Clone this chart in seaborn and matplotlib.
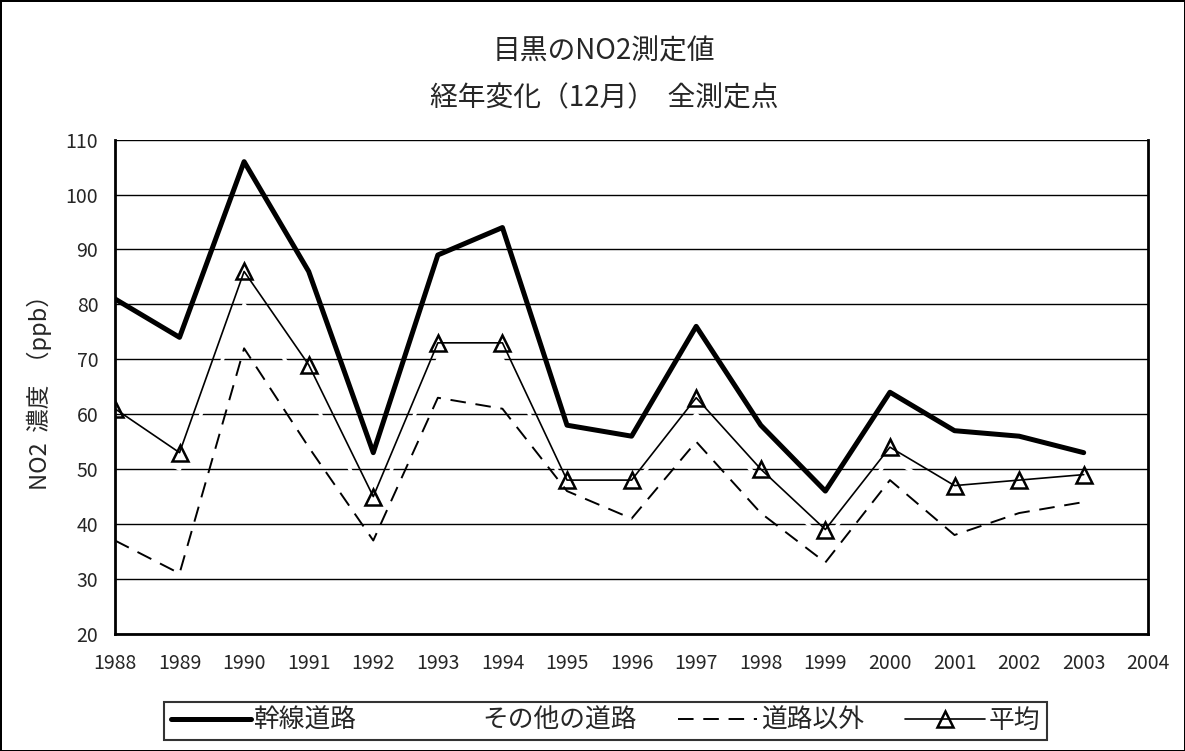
import numpy as np
import pandas as pd
import seaborn as sns
import matplotlib.pyplot as plt

years = list(range(1988, 2004))
kansen = [81, 74, 106, 86, 53, 89, 94, 58, 56, 76, 58, 46, 64, 57, 56, 53]
sonota = [56, 50, 80, 64, 42, 70, 70, 46, 47, 60, 48, 37, 52, 45, 46, 48]
igai = [37, 31, 72, 54, 37, 63, 61, 46, 41, 55, 42, 33, 48, 38, 42, 44]
heikin = [61, 53, 86, 69, 45, 73, 73, 48, 48, 63, 50, 39, 54, 47, 48, 49]

names = ["幹線道路", "その他の道路", "道路以外", "平均"]
title = "目黒のNO2測定値\n経年変化（12月）  全測定点"
ylabel = "NO2  濃度  （ppb）"

df = pd.DataFrame({"year": years, names[0]: kansen, names[1]: sonota,
                   names[2]: igai, names[3]: heikin})

sns.set_style("white")
plt.rcParams['font.family'] = ['Noto Sans CJK JP', 'DejaVu Sans']

fig = plt.figure(figsize=(11.85, 7.51), dpi=100)
fig.patch.set_edgecolor('black')
fig.patch.set_linewidth(2)
ax = fig.add_axes([0.097, 0.156, 0.872, 0.658])

ax.yaxis.grid(True, color='black', lw=1, zorder=0)
ax.set_axisbelow(True)

sns.lineplot(data=df, x="year", y=names[1], ax=ax, color='white', lw=2.5,
             label=names[1], zorder=2)
sns.lineplot(data=df, x="year", y=names[0], ax=ax, color='black', lw=3.6,
             label=names[0], zorder=3)
sns.lineplot(data=df, x="year", y=names[2], ax=ax, color='black', lw=1.4,
             label=names[2], zorder=3)
ax.lines[-1].set_dashes([8, 5])
sns.lineplot(data=df, x="year", y=names[3], ax=ax, color='black', lw=1.2,
             marker='^', markersize=11, markerfacecolor='none',
             markeredgecolor='black', markeredgewidth=1.8, label=names[3], zorder=4)

ax.set_xlim(1988, 2004)
ax.set_ylim(20, 110)
ax.set_xticks(range(1988, 2005))
ax.set_yticks(range(20, 111, 10))
ax.tick_params(axis='x', direction='in', length=6, width=1, labelsize=14, pad=14)
ax.tick_params(axis='y', length=0, labelsize=14, pad=12)
ax.set_xlabel("")
ax.set_ylabel(ylabel, fontsize=17, labelpad=10)
for s in ['left', 'bottom', 'right']:
    ax.spines[s].set_color('black')
    ax.spines[s].set_linewidth(2)
ax.spines['top'].set_visible(False)

fig.suptitle(title, fontsize=20, x=0.51, y=0.90, va='center', linespacing=1.75)

handles, labels = ax.get_legend_handles_labels()
order = [labels.index(n) for n in names]
ax.legend_.remove()
leg = fig.legend([handles[i] for i in order], [labels[i] for i in order],
                 loc='center', bbox_to_anchor=(0.511, 0.04), ncol=4,
                 fontsize=18.5, handlelength=3.1, columnspacing=1.6,
                 handletextpad=0.15, frameon=True, fancybox=False,
                 edgecolor='black', borderpad=0.25)
leg.get_frame().set_linewidth(1.5)

fig.savefig("out.png", dpi=100)
